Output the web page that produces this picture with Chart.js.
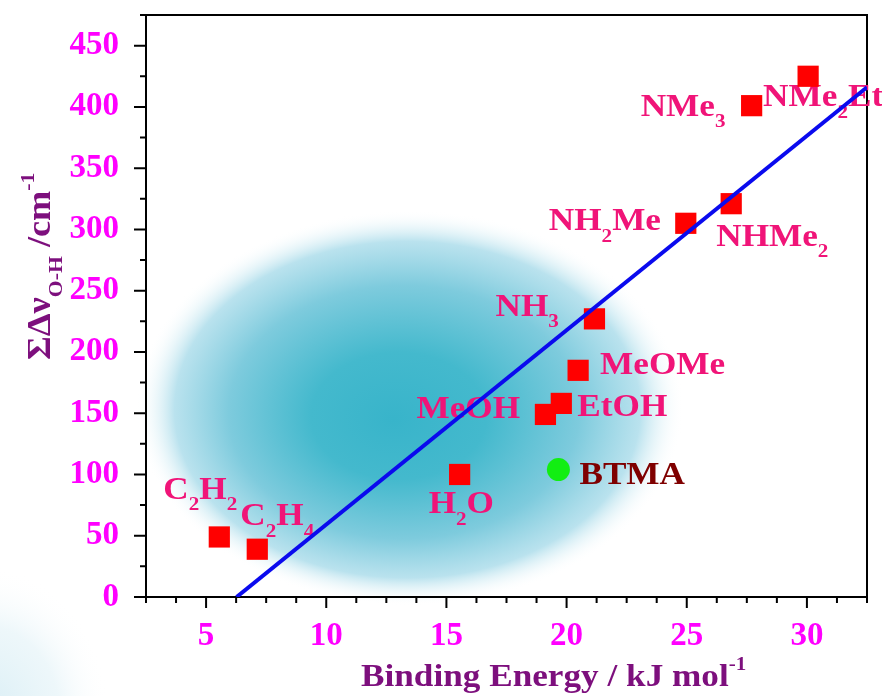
<!DOCTYPE html>
<html>
<head>
<meta charset="utf-8">
<title>Binding energy vs O-H shift</title>
<script src="https://cdn.jsdelivr.net/npm/chart.js@4.4.1/dist/chart.umd.min.js"></script>
<style>
  html, body { margin: 0; padding: 0; background: #fff; }
  #wrap { width: 882px; height: 696px; }
</style>
</head>
<body>
<div id="wrap"><canvas id="chart" width="882" height="696"></canvas></div>
<script>
// molecule names: "_x" or "_{..}" marks a subscript, "^{..}" a superscript
const molecules = ['C_2H_2', 'C_2H_4', 'H_2O', 'MeOH', 'EtOH', 'MeOMe', 'NH_3', 'NH_2Me', 'NHMe_2', 'NMe_3', 'NMe_2Et'];
const bindingEnergy = [5.55, 7.13, 15.55, 19.12, 19.78, 20.48, 21.16, 24.96, 26.85, 27.7, 30.05];
const shiftOH = [49, 39, 100, 149, 158, 185, 227, 305, 321, 401, 425];

const btmaName = 'BTMA';
const btmaEnergy = [19.66];
const btmaShift = [104];

// linear fit, end points
const fitEnergy = [6.27, 32.5];
const fitShift = [0, 416];

const xRange = [2.5, 32.5];
const yRange = [0, 475];
const xLabelTicks = [5, 10, 15, 20, 25, 30];
const yLabelTicks = [0, 50, 100, 150, 200, 250, 300, 350, 400, 450];

const xTitle = 'Binding Energy / kJ mol^{-1}';
const yTitle = 'ΣΔν_{O-H} /cm^{-1}';

const SERIF = "'Liberation Serif', 'DejaVu Serif', serif";
const STRETCH = 1.1;

// where each label's text starts (left, baseline) relative to its point
const labelOffsets = {
  'C_2H_2': [-56, -38],
  'C_2H_4': [-17, -24],
  'H_2O': [-31, 39],
  'MeOH': [-129, 4],
  'EtOH': [16, 13],
  'MeOMe': [22, 4],
  'NH_3': [-99, -3],
  'NH_2Me': [-137, 7],
  'NHMe_2': [-15, 42],
  'NMe_3': [-111, 10],
  'NMe_2Et': [-45, 30],
  'BTMA': [21, 14]
};

function parseRich(text) {
  const parts = [];
  let buf = '';
  let i = 0;
  const flush = () => { if (buf) { parts.push({ t: buf, kind: 'n' }); buf = ''; } };
  while (i < text.length) {
    const c = text[i];
    if (c === '_' || c === '^') {
      flush();
      let t;
      if (text[i + 1] === '{') {
        const e = text.indexOf('}', i);
        t = text.slice(i + 2, e);
        i = e + 1;
      } else {
        t = text[i + 1];
        i += 2;
      }
      parts.push({ t: t, kind: c === '_' ? 'sub' : 'sup' });
    } else {
      buf += c;
      i++;
    }
  }
  flush();
  return parts;
}

function drawRich(ctx, text, x, y, size, color) {
  ctx.save();
  ctx.translate(x, y);
  ctx.scale(STRETCH, 1);
  ctx.fillStyle = color;
  ctx.textAlign = 'left';
  ctx.textBaseline = 'alphabetic';
  let cx = 0;
  parseRich(text).forEach(p => {
    const s = p.kind === 'n' ? size : size * 0.6;
    const dy = p.kind === 'sub' ? size * 0.36 : (p.kind === 'sup' ? -size * 0.5 : 0);
    ctx.font = 'bold ' + s + 'px ' + SERIF;
    ctx.fillText(p.t, cx, dy);
    cx += ctx.measureText(p.t).width;
  });
  ctx.restore();
}

function fillBlob(ctx, cx, cy, rx, ry, fx, fy, stops) {
  ctx.save();
  ctx.translate(cx, cy);
  ctx.scale(rx, ry);
  const g = ctx.createRadialGradient(fx, fy, 0, 0, 0, 1);
  stops.forEach(s => g.addColorStop(s[0], s[1]));
  ctx.fillStyle = g;
  ctx.beginPath();
  ctx.arc(0, 0, 1, 0, Math.PI * 2);
  ctx.fill();
  ctx.restore();
}

// soft teal glow behind the points and a pale patch at the bottom-left corner
const backdrop = {
  id: 'backdrop',
  beforeDraw(chart) {
    const { ctx, chartArea: a } = chart;
    const w = a.right - a.left;
    const h = a.bottom - a.top;
    ctx.save();
    ctx.fillStyle = '#fff';
    ctx.fillRect(0, 0, chart.width, chart.height);
    fillBlob(ctx, -15, chart.height + 20, 125, 150, 0, 0, [
      [0, 'rgba(212,236,244,0.9)'],
      [0.6, 'rgba(226,242,247,0.6)'],
      [1, 'rgba(255,255,255,0)']
    ]);
    fillBlob(ctx, a.left + 0.366 * w, a.top + 0.675 * h, 0.38 * w, 0.34 * h, -0.06, 0.06, [
      [0, 'rgba(56,180,202,1)'],
      [0.32, 'rgba(68,185,205,1)'],
      [0.64, 'rgba(126,203,221,1)'],
      [0.85, 'rgba(178,223,236,0.9)'],
      [1, 'rgba(255,255,255,0)']
    ]);
    ctx.restore();
  }
};

// box frame plus long (labelled) and short tick marks pointing outward
const frameTicks = {
  id: 'frameTicks',
  beforeDatasetsDraw(chart) {
    const { ctx, chartArea: a, scales } = chart;
    ctx.save();
    ctx.strokeStyle = '#000';
    ctx.lineWidth = 2;
    ctx.strokeRect(a.left, a.top, a.right - a.left, a.bottom - a.top);
    ctx.beginPath();
    scales.x.ticks.forEach(t => {
      const px = scales.x.getPixelForValue(t.value);
      const len = xLabelTicks.includes(t.value) ? 11 : 6;
      ctx.moveTo(px, a.bottom);
      ctx.lineTo(px, a.bottom + len);
    });
    scales.y.ticks.forEach(t => {
      const py = scales.y.getPixelForValue(t.value);
      const len = yLabelTicks.includes(t.value) ? 12 : 6;
      ctx.moveTo(a.left, py);
      ctx.lineTo(a.left - len, py);
    });
    ctx.stroke();
    ctx.restore();
  }
};

const pointLabels = {
  id: 'pointLabels',
  beforeDatasetsDraw(chart) {
    const { ctx, scales: { x, y } } = chart;
    molecules.forEach((name, i) => {
      const off = labelOffsets[name];
      drawRich(ctx, name, x.getPixelForValue(bindingEnergy[i]) + off[0],
        y.getPixelForValue(shiftOH[i]) + off[1], 32, '#f01478');
    });
    const off = labelOffsets[btmaName];
    drawRich(ctx, btmaName, x.getPixelForValue(btmaEnergy[0]) + off[0],
      y.getPixelForValue(btmaShift[0]) + off[1], 32, '#7f0000');
  }
};

const axisTitles = {
  id: 'axisTitles',
  afterDraw(chart) {
    const ctx = chart.ctx;
    drawRich(ctx, xTitle, 361, 686, 32, '#7d0f7d');
    ctx.save();
    ctx.translate(50, 360);
    ctx.rotate(-Math.PI / 2);
    drawRich(ctx, yTitle, 0, 0, 33, '#7d0f7d');
    ctx.restore();
  }
};

const tickFont = { family: SERIF, size: 33, weight: 'bold' };

new Chart(document.getElementById('chart'), {
  type: 'scatter',
  data: {
    datasets: [
      {
        type: 'line',
        data: fitEnergy.map((v, i) => ({ x: v, y: fitShift[i] })),
        borderColor: '#0a0aee',
        borderWidth: 4,
        pointRadius: 0,
        fill: false
      },
      {
        data: bindingEnergy.map((v, i) => ({ x: v, y: shiftOH[i] })),
        pointStyle: 'rect',
        pointRadius: 15,
        backgroundColor: '#ff0000',
        borderWidth: 0
      },
      {
        data: btmaEnergy.map((v, i) => ({ x: v, y: btmaShift[i] })),
        pointStyle: 'circle',
        pointRadius: 11.5,
        backgroundColor: '#12ee12',
        borderWidth: 0
      }
    ]
  },
  options: {
    responsive: false,
    animation: false,
    layout: { padding: { top: 10, right: 14, left: 0, bottom: 0 } },
    plugins: { legend: { display: false }, tooltip: { enabled: false } },
    scales: {
      x: {
        min: xRange[0],
        max: xRange[1],
        grid: { display: false },
        border: { display: false },
        ticks: {
          stepSize: 1.25,
          autoSkip: false,
          maxRotation: 0,
          padding: 12,
          color: '#ff00ff',
          font: tickFont,
          callback: v => xLabelTicks.includes(v) ? String(v) : ''
        },
        afterFit: s => { s.height = 99; s.paddingLeft = 0; s.paddingRight = 0; }
      },
      y: {
        min: yRange[0],
        max: yRange[1],
        grid: { display: false },
        border: { display: false },
        ticks: {
          stepSize: 25,
          autoSkip: false,
          padding: 19,
          color: '#ff00ff',
          font: tickFont,
          callback: v => yLabelTicks.includes(v) ? String(v) : ''
        },
        afterFit: s => { s.width = 146; s.paddingTop = 0; s.paddingBottom = 0; }
      }
    }
  },
  plugins: [backdrop, frameTicks, pointLabels, axisTitles]
});
</script>
</body>
</html>
